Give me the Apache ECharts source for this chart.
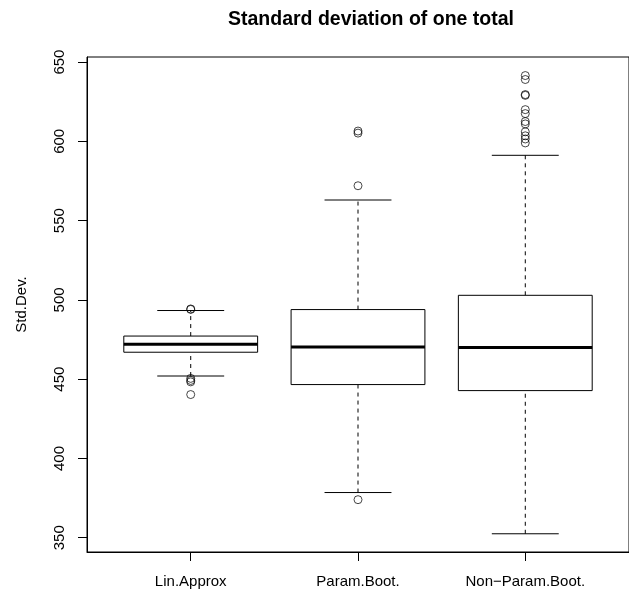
<!DOCTYPE html>
<html>
<head>
  <meta charset="utf-8">
  <title>Standard deviation of one total</title>
  <script src="https://cdn.jsdelivr.net/npm/echarts@6/dist/echarts.min.js"></script>
</head>
<body style="margin: 0">
  <div id="chart_div" style="width: 629px; height: 592px;"></div>
  <script type="text/javascript">
    // box statistics
    var categories = ['Lin.Approx', 'Param.Boot.', 'Non\u2212Param.Boot.'];
    var whiskerLow = [452, 378.5, 352.5];
    var q1 = [467, 446.6, 442.8];
    var median = [472, 470.3, 470];
    var q3 = [477.2, 493.9, 502.9];
    var whiskerHigh = [493.3, 563, 591.2];
    // outliers per category
    var outLin = [494, 494.3, 450.5, 449.2, 448.3, 440.3];
    var outParam = [606.5, 605.2, 572, 374];
    var outNonParam = [641.5, 639, 629.5, 629, 620, 617.5, 612.5, 611, 606, 603.5, 601.5, 599];
    var yTicks = [350, 400, 450, 500, 550, 600, 650];

    var font = 'Liberation Sans, Arial, Helvetica, sans-serif';
    var chart = echarts.init(document.getElementById('chart_div'), null, { renderer: 'canvas' });

    var boxData = categories.map(function (c, i) {
      return [i + 1, whiskerLow[i], q1[i], median[i], q3[i], whiskerHigh[i]];
    });
    var outliers = [];
    [outLin, outParam, outNonParam].forEach(function (list, i) {
      list.forEach(function (v) { outliers.push([i + 1, v]); });
    });

    function renderBox(params, api) {
      var x = api.value(0);
      var lo = api.coord([x, api.value(1)]);
      var b1 = api.coord([x - 0.4, api.value(2)]);
      var b2 = api.coord([x + 0.4, api.value(4)]);
      var m1 = api.coord([x - 0.4, api.value(3)]);
      var m2 = api.coord([x + 0.4, api.value(3)]);
      var hi = api.coord([x, api.value(5)]);
      var c1 = api.coord([x - 0.2, api.value(1)]);
      var c2 = api.coord([x + 0.2, api.value(1)]);
      var d1 = api.coord([x - 0.2, api.value(5)]);
      var d2 = api.coord([x + 0.2, api.value(5)]);
      var dash = { stroke: '#000', lineWidth: 1, lineDash: [4, 4] };
      var solid = { stroke: '#000', lineWidth: 1 };
      return {
        type: 'group',
        children: [
          { type: 'line', shape: { x1: lo[0], y1: lo[1], x2: lo[0], y2: b1[1] }, style: dash },
          { type: 'line', shape: { x1: hi[0], y1: b2[1], x2: hi[0], y2: hi[1] }, style: dash },
          { type: 'line', shape: { x1: c1[0], y1: c1[1], x2: c2[0], y2: c2[1] }, style: solid },
          { type: 'line', shape: { x1: d1[0], y1: d1[1], x2: d2[0], y2: d2[1] }, style: solid },
          {
            type: 'rect',
            shape: { x: b1[0], y: b2[1], width: b2[0] - b1[0], height: b1[1] - b2[1] },
            style: { fill: '#fff', stroke: '#000', lineWidth: 1 }
          },
          { type: 'line', shape: { x1: m1[0], y1: m1[1], x2: m2[0], y2: m2[1] }, style: { stroke: '#000', lineWidth: 3 } }
        ]
      };
    }

    var option = {
      backgroundColor: '#fff',
      animation: false,
      title: {
        text: 'Standard deviation of one total',
        left: 366,
        top: 5,
        textAlign: 'center',
        textStyle: { fontFamily: font, fontSize: 19.5, fontWeight: 'bold', color: '#000' }
      },
      grid: {
        left: 87,
        top: 57,
        width: 553,
        height: 495,
        show: true,
        borderColor: '#000',
        borderWidth: 1,
        backgroundColor: 'transparent'
      },
      xAxis: {
        type: 'value',
        min: 0.38,
        max: 3.62,
        splitLine: { show: false },
        axisLine: { show: true, lineStyle: { color: '#000' } },
        axisTick: { show: true, customValues: [1, 2, 3], length: 9, lineStyle: { color: '#000' } },
        axisLabel: {
          customValues: [1, 2, 3],
          margin: 22,
          fontFamily: font,
          fontSize: 15,
          color: '#000',
          formatter: function (v) { return categories[Math.round(v) - 1]; }
        }
      },
      yAxis: {
        type: 'value',
        min: 341,
        max: 653.2,
        name: 'Std.Dev.',
        nameLocation: 'middle',
        nameRotate: 90,
        nameGap: 58,
        nameTextStyle: { fontFamily: font, fontSize: 15, color: '#000' },
        splitLine: { show: false },
        axisLine: { show: true, lineStyle: { color: '#000' } },
        axisTick: { show: true, customValues: yTicks, length: 9, lineStyle: { color: '#000' } },
        axisLabel: {
          customValues: yTicks,
          rotate: 90,
          margin: 20,
          fontFamily: font,
          fontSize: 15,
          color: '#000'
        }
      },
      series: [
        {
          type: 'custom',
          renderItem: renderBox,
          data: boxData,
          encode: { x: 0, y: [1, 2, 3, 4, 5] },
          clip: true
        },
        {
          type: 'scatter',
          data: outliers,
          symbol: 'circle',
          symbolSize: 8,
          itemStyle: { color: 'rgba(0,0,0,0)', borderColor: '#000', borderWidth: 0.9 },
          z: 3
        }
      ]
    };
    chart.setOption(option);
  </script>
</body>
</html>
